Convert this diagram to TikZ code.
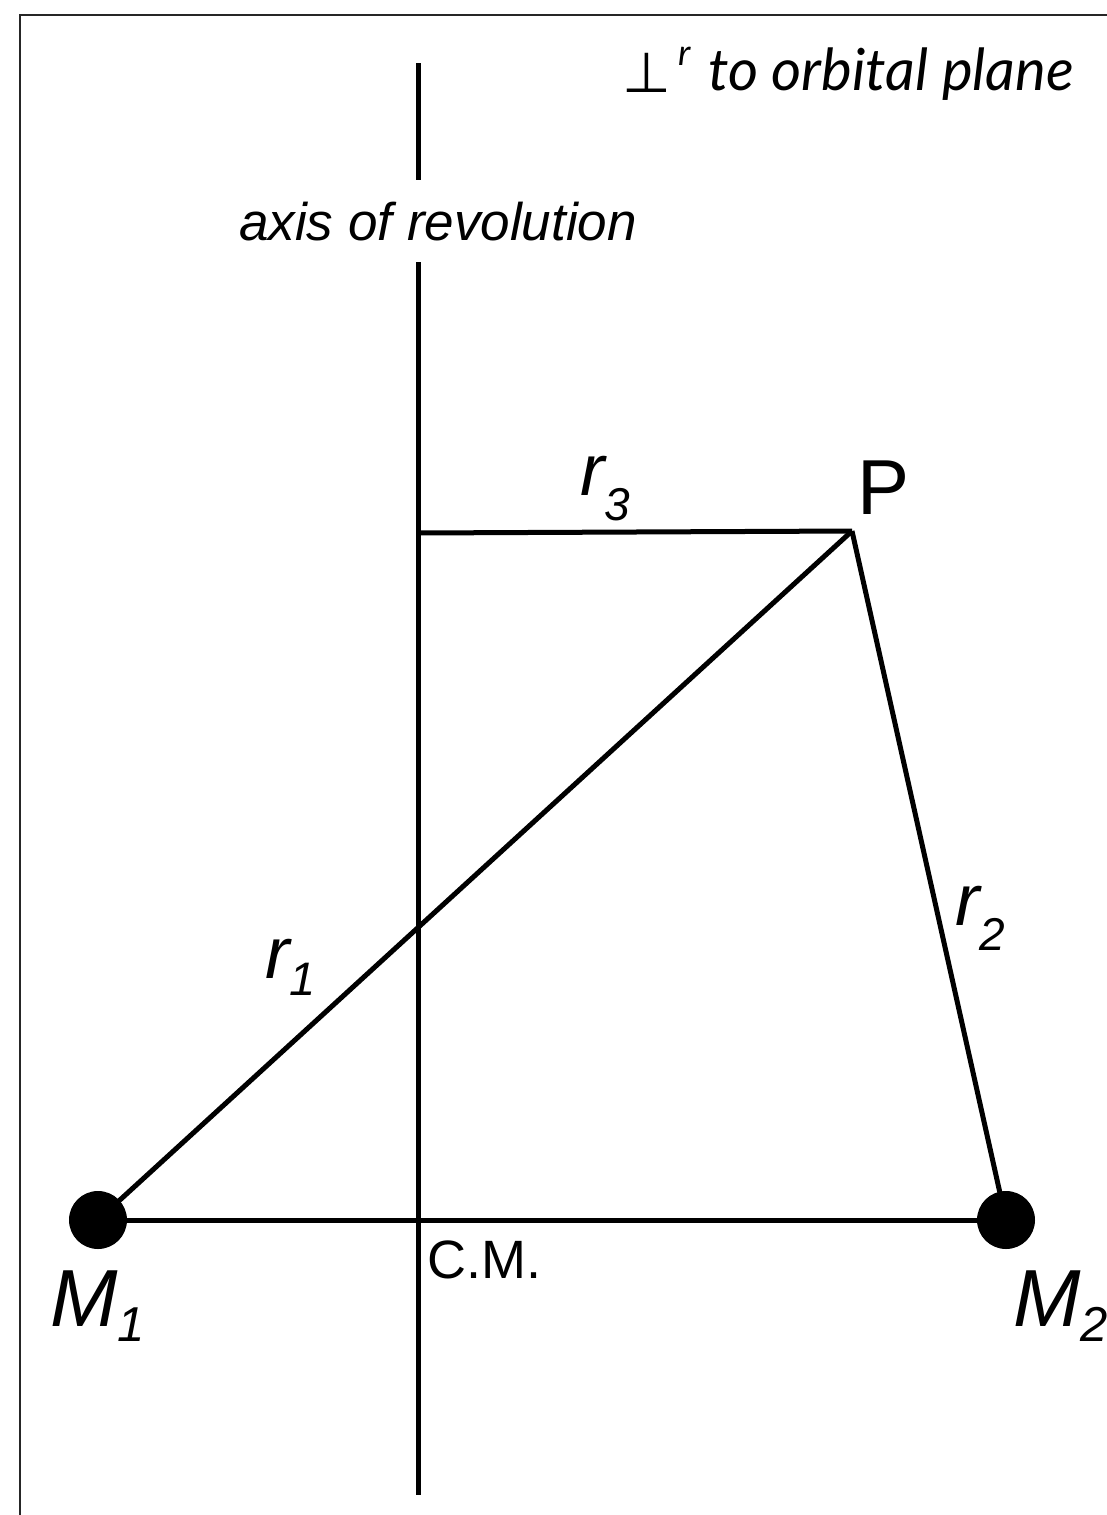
\documentclass[tikz,border=0pt]{standalone}
\usepackage{fontspec}
\setmainfont{Liberation Sans}
\newfontfamily\gillfont{Lato}
\newfontfamily\symfont{DejaVu Sans}
\tikzset{
  ln/.style={line width=5pt, line cap=butt},
  mass/.style={circle, fill=black, minimum size=58pt, inner sep=0pt},
  lbl/.style={inner sep=0pt, anchor=base west},
}
\newcommand\fs[1]{\fontsize{#1}{#1}\selectfont}
\begin{document}
\begin{tikzpicture}[x=1pt,y=-1pt]
\useasboundingbox (0,0) rectangle (1107,1515);
% frame
\draw[line width=2.2pt, black!85] (20,1515) -- (20,15) -- (1107,15);
% coordinates
\coordinate (axtop) at (418,63);
\coordinate (axgapA) at (418,180);
\coordinate (axgapB) at (418,262);
\coordinate (axbot) at (418,1495);
\coordinate (A3) at (418,533);
\coordinate (P) at (852,531);
\coordinate (m1) at (98,1220);
\coordinate (m2) at (1006,1220);
% lines
\draw[ln] (axtop) -- (axgapA);
\draw[ln] (axgapB) -- (axbot);
\draw[ln] (A3) -- (P);
\draw[ln] (P) -- (m1);
\draw[ln] (P) -- (m2);
\draw[ln] (m1) -- (m2);
\node[mass] (M1) at (m1) {};
\node[mass] (M2) at (m2) {};
% labels
\node[lbl] (axlab) at (239,240) {\fs{53}\itshape axis of revolution};
\node[lbl] (perp) at (622,92) {\fs{56}\symfont ⊥};
\node[lbl] (perpr) at (678,65) {\fs{36}\gillfont\itshape r};
\node[lbl] (plane) at (708,90) {\fs{58}\gillfont\itshape to orbital plane};
\node[lbl] (Plab) at (857,514) {\fs{78}P};
\node[lbl] (r3) at (580,495) {\fs{73}\itshape r\raisebox{-25pt}{\fs{46}3}};
\node[lbl] (r1) at (265,978) {\fs{73}\itshape r\raisebox{-17pt}{\fs{47}1}};
\node[lbl] (r2) at (955,925) {\fs{73}\itshape r\raisebox{-25pt}{\fs{46}2}};
\node[lbl] (CM) at (427,1278) {\fs{54}C.M.};
\node[lbl] (M1lab) at (50,1326) {\fs{81}\itshape M\raisebox{-15pt}{\fs{49}1}};
\node[lbl] (M2lab) at (1013,1326) {\fs{81}\itshape M\raisebox{-15pt}{\fs{49}2}};
\end{tikzpicture}
\end{document}
